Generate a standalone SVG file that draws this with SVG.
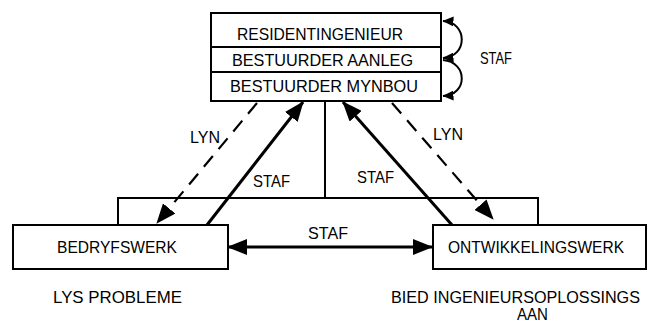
<svg xmlns="http://www.w3.org/2000/svg" width="655" height="322" viewBox="0 0 655 322">
<style>
text{font-family:"Liberation Sans",Arial,sans-serif;font-size:16.5px;fill:#000}
.box{fill:#fff;stroke:#000;stroke-width:2}
.ln{fill:none;stroke:#000;stroke-width:2}
.solid{fill:none;stroke:#000;stroke-width:3}
.dash{fill:none;stroke:#000;stroke-width:2.2;stroke-dasharray:14 9}
</style>
<defs>
<marker id="big" markerUnits="userSpaceOnUse" markerWidth="20" markerHeight="16" refX="19" refY="8" orient="auto-start-reverse" viewBox="0 0 20 16">
<path d="M0,0 L20,8 L0,16 z" fill="#000"/>
</marker>
<marker id="sm" markerUnits="userSpaceOnUse" markerWidth="11" markerHeight="10" refX="10.5" refY="5" orient="auto-start-reverse" viewBox="0 0 11 10">
<path d="M0,0 L11,5 L0,10 z" fill="#000"/>
</marker>
</defs>
<g id="connectors">
<path class="ln" d="M325,101 V198 M118,225 V198 H538 V225"/>
<line class="solid" x1="207" y1="225" x2="303" y2="102" marker-end="url(#big)"/>
<line class="solid" x1="452" y1="225" x2="343" y2="102" marker-end="url(#big)"/>
<line class="dash" x1="257" y1="103" x2="157" y2="223" marker-end="url(#big)"/>
<line class="dash" x1="392" y1="103" x2="493" y2="219" marker-end="url(#big)"/>
<line class="solid" x1="228" y1="247" x2="432" y2="247" marker-start="url(#big)" marker-end="url(#big)"/>
<path class="ln" d="M443,21 C468,22 468,57 443,58" marker-start="url(#sm)" marker-end="url(#sm)"/>
<path class="ln" d="M443,60 C468,62 468,95 443,96" marker-end="url(#sm)"/>
<text x="190" y="143" textLength="30" lengthAdjust="spacingAndGlyphs">LYN</text>
<text x="253" y="187" textLength="37" lengthAdjust="spacingAndGlyphs">STAF</text>
<text x="433" y="140" textLength="30" lengthAdjust="spacingAndGlyphs">LYN</text>
<text x="357" y="183" textLength="37" lengthAdjust="spacingAndGlyphs">STAF</text>
<text x="308" y="239" textLength="40" lengthAdjust="spacingAndGlyphs">STAF</text>
<text x="480" y="64" textLength="32" lengthAdjust="spacingAndGlyphs">STAF</text>
</g>
<g id="top">
<rect class="box" x="211" y="13" width="230" height="88"/>
<line class="ln" x1="211" y1="47" x2="441" y2="47"/>
<line class="ln" x1="211" y1="72" x2="441" y2="72"/>
<text x="237" y="40" textLength="166" lengthAdjust="spacingAndGlyphs">RESIDENTINGENIEUR</text>
<text x="232" y="66" textLength="181" lengthAdjust="spacingAndGlyphs">BESTUURDER  AANLEG</text>
<text x="230" y="92" textLength="188" lengthAdjust="spacingAndGlyphs">BESTUURDER  MYNBOU</text>
</g>
<g id="bedryfswerk">
<rect class="box" x="13" y="225" width="215" height="44"/>
<text x="57" y="253" textLength="120" lengthAdjust="spacingAndGlyphs">BEDRYFSWERK</text>
<text x="53" y="303" textLength="129" lengthAdjust="spacingAndGlyphs">LYS  PROBLEME</text>
</g>
<g id="ontwikkelingswerk">
<rect class="box" x="433" y="225" width="213" height="44"/>
<text x="448" y="253" textLength="176" lengthAdjust="spacingAndGlyphs">ONTWIKKELINGSWERK</text>
<text x="391" y="303" textLength="249" lengthAdjust="spacingAndGlyphs">BIED  INGENIEURSOPLOSSINGS</text>
<text x="517" y="320" textLength="31" lengthAdjust="spacingAndGlyphs">AAN</text>
</g>
</svg>
